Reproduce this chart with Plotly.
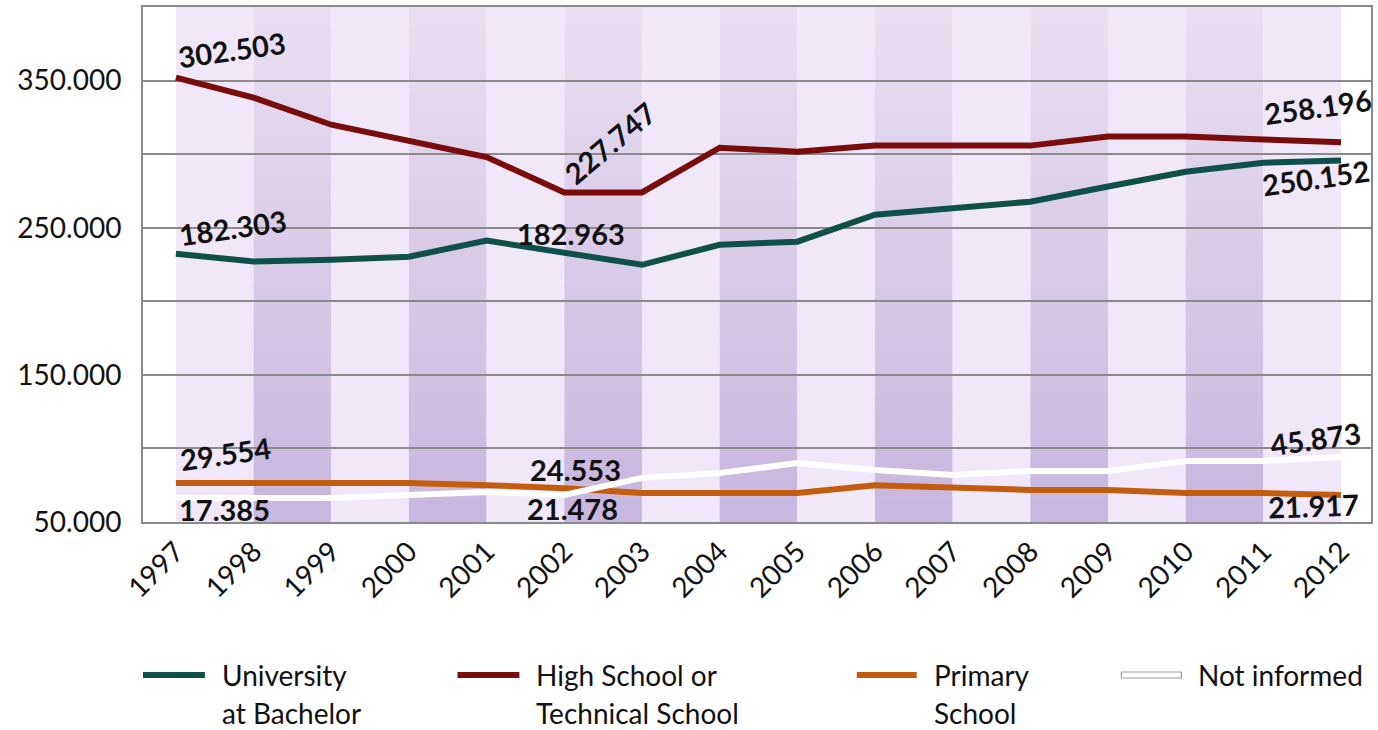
import plotly.graph_objects as go

# ---------------- data (values in thousands) ----------------
years = list(range(1997, 2013))
year_labels = [str(y) for y in years]

university = [232.3, 227.0, 228.2, 230.3, 241.2, 233.0, 224.8, 238.4, 240.5, 258.8, 263.0, 267.7, 278.0, 288.0, 294.2, 295.6]
high_school = [352.0, 338.4, 320.0, 308.5, 298.0, 274.0, 274.0, 304.4, 301.7, 305.8, 305.8, 305.8, 312.0, 312.0, 310.0, 308.0]
primary = [76.5, 76.5, 76.5, 76.5, 75.0, 73.0, 69.7, 69.7, 69.7, 75.0, 73.8, 71.8, 71.8, 69.7, 69.7, 68.4]
not_informed = [66.3, 66.3, 66.3, 68.4, 70.4, 68.4, 80.0, 83.3, 90.0, 85.4, 82.0, 84.7, 84.7, 91.5, 91.5, 94.2]

y_tick_values = [50, 100, 150, 200, 250, 300, 350]
y_tick_labels = ["50.000", "", "150.000", "", "250.000", "", "350.000"]

series_names = ["University at Bachelor", "High School or Technical School", "Primary School", "Not informed"]
legend_lines = [["University", "at Bachelor"], ["High School or", "Technical School"], ["Primary", "School"], ["Not informed"]]

label_texts = ["302.503", "182.303", "227.747", "182.963", "258.196", "250.152",
               "29.554", "17.385", "24.553", "21.478", "45.873", "21.917"]

# ---------------- styling ----------------
COLORS = ["#0e504a", "#7a0c0c", "#c45c0e", "#ffffff"]
FONT = "Lato"
X_RANGE = [1996.576, 2012.386]
Y_RANGE = [50, 400]

# label placement (x, y in axis units, angle)
label_pos = [
    (1997.72, 371.0, -8), (1997.73, 250.0, -8), (2002.59, 307.8, -40), (2002.08, 245.9, 0),
    (2011.70, 332.3, -8), (2011.68, 284.0, -8), (1997.64, 96.3, -8), (1997.62, 58.8, 0),
    (2002.15, 86.0, 0), (2002.10, 59.5, 0), (2011.67, 106.5, -8), (2011.65, 60.9, -2),
]

fig = go.Figure()
for name, vals, col in zip(series_names, [university, high_school, primary, not_informed], COLORS):
    fig.add_trace(go.Scatter(x=years, y=vals, mode="lines", name=name,
                             line=dict(color=col, width=6), showlegend=False,
                             hoverinfo="x+y+name"))

shapes = []
# alternating background bands between year positions
N_SLICES = 24
light = (240, 231, 248)
dark_top = (233, 222, 242)
dark_bot = (200, 183, 222)
for i in range(len(years) - 1):
    x0, x1 = years[i], years[i + 1]
    if i % 2 == 0:
        shapes.append(dict(type="rect", xref="x", yref="paper", x0=x0, x1=x1, y0=0, y1=1,
                           fillcolor="rgb(%d,%d,%d)" % light, line=dict(width=0), layer="below"))
    else:
        for s in range(N_SLICES):
            t = s / (N_SLICES - 1)
            c = tuple(int(round(dark_bot[k] + (dark_top[k] - dark_bot[k]) * t)) for k in range(3))
            shapes.append(dict(type="rect", xref="x", yref="paper", x0=x0, x1=x1,
                               y0=s / N_SLICES, y1=(s + 1) / N_SLICES + 0.002,
                               fillcolor="rgb(%d,%d,%d)" % c, line=dict(width=0), layer="below"))

annotations = []
for txt, (lx, ly, ang) in zip(label_texts, label_pos):
    annotations.append(dict(x=lx, y=ly, xref="x", yref="y", text=txt, showarrow=False,
                            textangle=ang, xanchor="center", yanchor="middle",
                            font=dict(family=FONT, size=29, color="#111111", weight="bold")))

# manual legend (pixel layout converted to paper coordinates)
PL, PW, PB, PH = 143, 1230, 522, 515
def px(x):
    return (x - PL) / PW
def py(y):
    return (PB - y) / PH

legend_sym = [(143, 205), (458, 520), (858, 918), (1123, 1183)]
legend_text_x = [220, 535, 933, 1198]
for k in range(4):
    a, b = legend_sym[k]
    if k < 3:
        shapes.append(dict(type="line", xref="paper", yref="paper", x0=px(a), x1=px(b),
                           y0=py(675), y1=py(675), line=dict(color=COLORS[k], width=6)))
    else:
        shapes.append(dict(type="rect", xref="paper", yref="paper", x0=px(a), x1=px(b),
                           y0=py(678), y1=py(672), fillcolor="#ffffff",
                           line=dict(color="#9a9a9a", width=1.2)))
    for j, line_txt in enumerate(legend_lines[k]):
        annotations.append(dict(x=px(legend_text_x[k]), y=py(675 + 38 * j), xref="paper", yref="paper",
                                text=line_txt, showarrow=False, xanchor="left", yanchor="middle",
                                font=dict(family=FONT, size=28, color="#111111")))

fig.update_layout(
    width=1378, height=730,
    margin=dict(l=143, r=5, t=7, b=208),
    paper_bgcolor="white", plot_bgcolor="white",
    font=dict(family=FONT, size=28, color="#111111"),
    shapes=shapes, annotations=annotations,
    xaxis=dict(range=X_RANGE, tickmode="array", tickvals=years, ticktext=year_labels,
               tickangle=-45, showgrid=False, zeroline=False, showline=True, mirror=True,
               linecolor="#8a8a8a", linewidth=2, ticks="", tickfont=dict(size=28)),
    yaxis=dict(range=Y_RANGE, tickmode="array", tickvals=y_tick_values, ticktext=y_tick_labels,
               showgrid=True, gridcolor="#8a8a8a", gridwidth=2, zeroline=False,
               showline=True, mirror=True, linecolor="#8a8a8a", linewidth=2,
               ticks="", ticklabelstandoff=14, tickfont=dict(size=28)),
    showlegend=False,
)

fig.write_html("out.html", config={"displayModeBar": False},
               post_script="document.body.style.margin='0px';document.body.style.overflow='hidden';")
